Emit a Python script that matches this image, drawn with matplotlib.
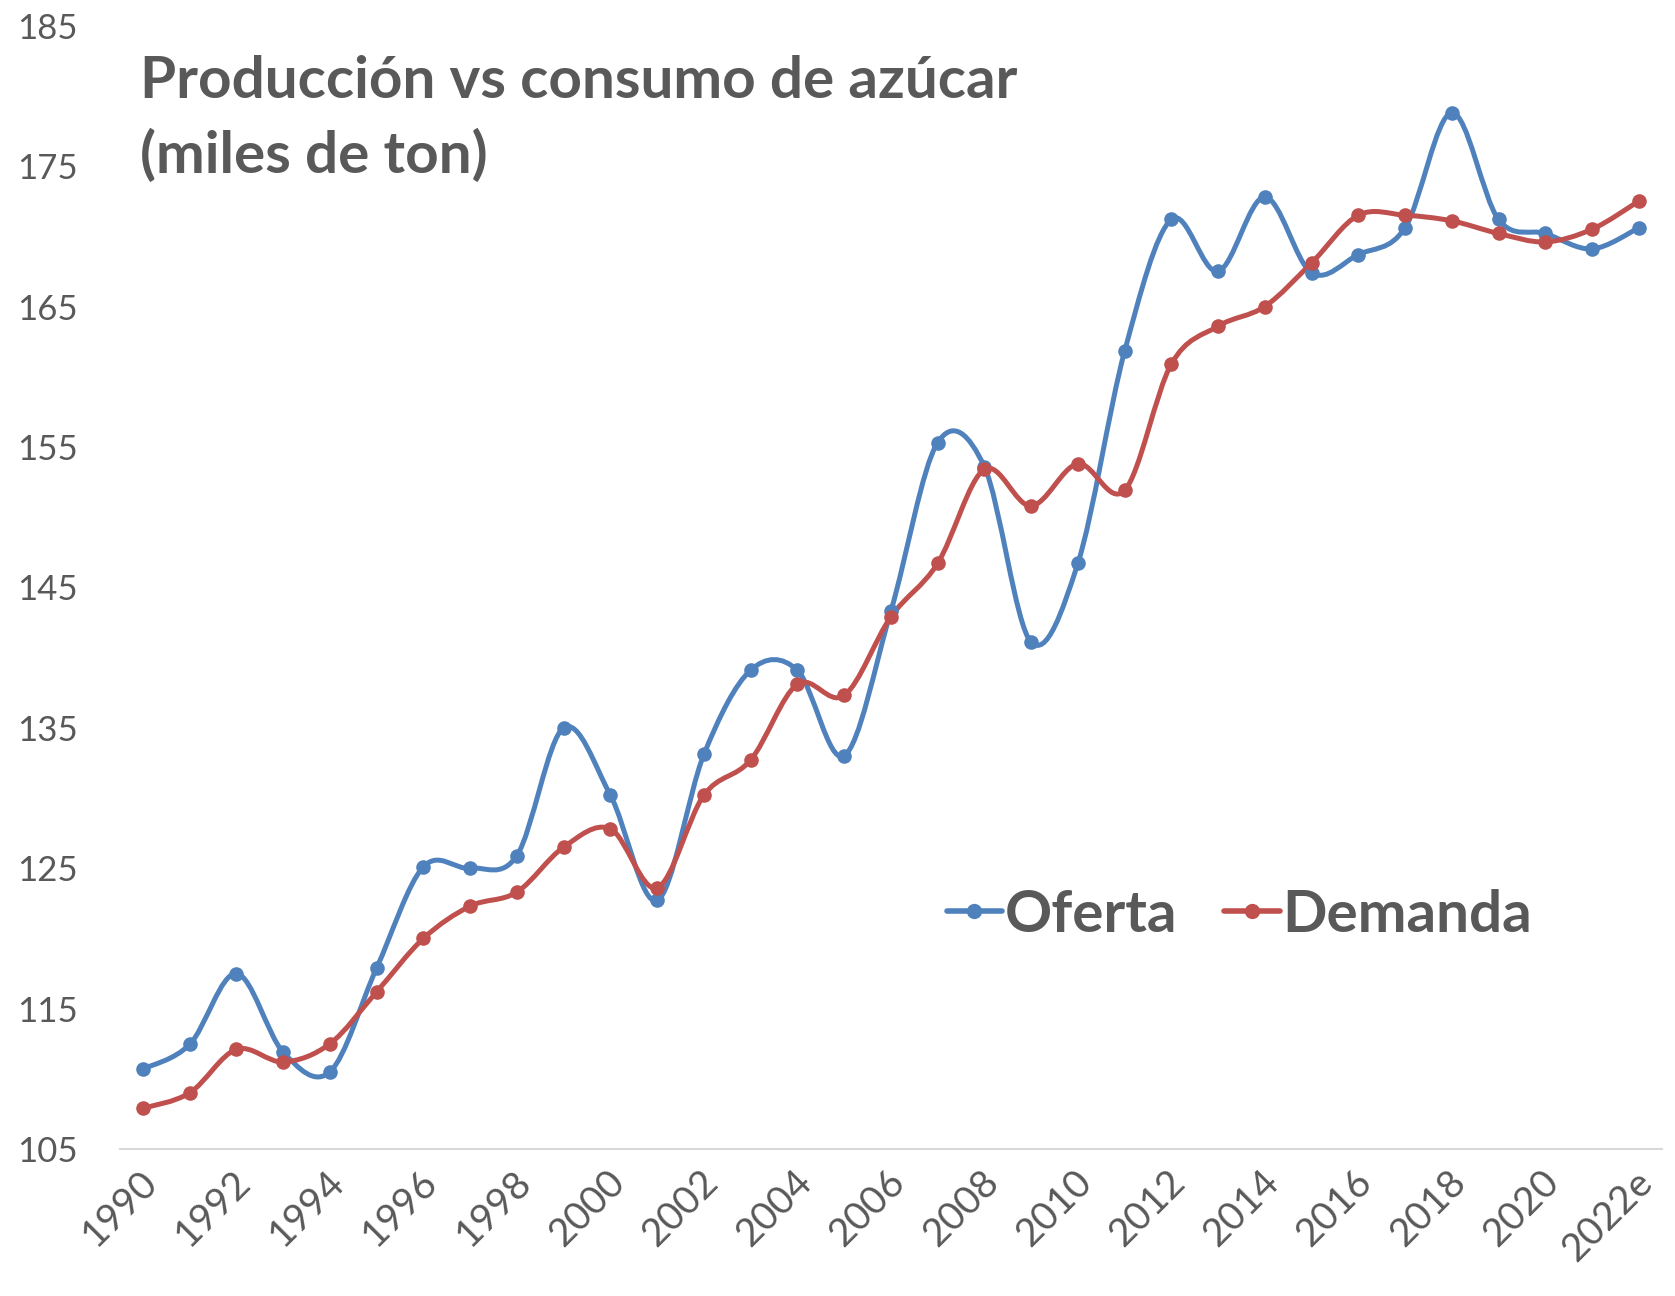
import matplotlib
matplotlib.use("Agg")
import matplotlib.pyplot as plt
from matplotlib.path import Path
from matplotlib.patches import PathPatch
from matplotlib.lines import Line2D
from matplotlib.transforms import ScaledTranslation
import numpy as np

years = [str(y) for y in range(1990, 2022)] + ["2022e"]
oferta = [110.7, 112.45, 117.5, 111.9, 110.5, 117.9, 125.1, 125.0, 125.9, 135.0,
          130.2, 122.7, 133.1, 139.1, 139.1, 133.0, 143.3, 155.3, 153.6, 141.1,
          146.7, 161.8, 171.2, 167.5, 172.8, 167.4, 168.7, 170.6, 178.8, 171.2,
          170.2, 169.1, 170.6]
demanda = [107.9, 109.0, 112.1, 111.2, 112.5, 116.2, 120.0, 122.3, 123.3, 126.5,
           127.8, 123.6, 130.2, 132.7, 138.1, 137.3, 142.9, 146.7, 153.4, 150.8,
           153.8, 151.9, 160.9, 163.6, 165.0, 168.1, 171.5, 171.5, 171.1, 170.2,
           169.6, 170.5, 172.5]
series_names = ["Oferta", "Demanda"]
colors = ["#4F81BD", "#C0504D"]
yticks = list(range(105, 186, 10))

FONT = "Lato"
GRAY = "#595959"

fig = plt.figure(figsize=(16.75, 12.96), dpi=100)
ax = fig.add_axes([0.0714, 0.1134, 0.9209, 0.8668])


def smooth_path(xs, ys):
    pts = np.column_stack([xs, ys]).astype(float)
    n = len(pts)
    verts = [pts[0]]
    codes = [Path.MOVETO]
    for i in range(n - 1):
        p0 = pts[max(i - 1, 0)]
        p1 = pts[i]
        p2 = pts[i + 1]
        p3 = pts[min(i + 2, n - 1)]
        c1 = p1 + (p2 - p0) / 6.0
        c2 = p2 - (p3 - p1) / 6.0
        verts += [c1, c2, p2]
        codes += [Path.CURVE4] * 3
    return Path(verts, codes)


x = np.arange(len(years))
handles = []
for vals, name, col in zip([oferta, demanda], series_names, colors):
    patch = PathPatch(smooth_path(x, vals), facecolor="none", edgecolor=col,
                      lw=3.6, capstyle="round", joinstyle="round", zorder=3)
    ax.add_patch(patch)
    ax.plot(x, vals, linestyle="none", marker="o", ms=10.5, mew=0,
            color=col, zorder=4)
    handles.append(Line2D([], [], color=col, lw=4, marker="o", ms=11, mew=0,
                          solid_capstyle="round"))

ax.set_xlim(-0.5, len(years) - 0.5)
ax.set_ylim(105, 185)
ax.set_yticks(yticks)
ax.set_yticklabels([str(t) for t in yticks], fontsize=25, color=GRAY,
                   family=FONT)
ax.set_xticks(x[::2])
ax.set_xticklabels(years[::2], fontsize=28, color=GRAY, family=FONT,
                   rotation=45, ha="right", va="center",
                   rotation_mode="anchor")
ax.tick_params(axis="y", length=0, pad=30)
ax.tick_params(axis="x", length=0, pad=20)
offset = ScaledTranslation(6 / 72, 0, fig.dpi_scale_trans)
for lab in ax.get_xticklabels():
    lab.set_transform(lab.get_transform() + offset)
for s in ["top", "right", "left"]:
    ax.spines[s].set_visible(False)
ax.spines["bottom"].set_color("#D9D9D9")
ax.spines["bottom"].set_linewidth(1.5)

fig.text(0.0836, 0.924, "Producción vs consumo de azúcar", fontsize=42,
         fontweight="bold", color=GRAY, family=FONT, va="baseline")
fig.text(0.0836, 0.8665, "(miles de ton)", fontsize=42,
         fontweight="bold", color=GRAY, family=FONT, va="baseline")

leg = ax.legend(handles, series_names, loc="center", bbox_to_anchor=(0.726, 0.208),
                ncol=2, frameon=False, handlelength=0.95, handletextpad=0.05,
                columnspacing=0.8,
                prop={"family": FONT, "weight": "bold", "size": 42})
for t in leg.get_texts():
    t.set_color(GRAY)

fig.savefig("out.png", dpi=100, facecolor="white")
